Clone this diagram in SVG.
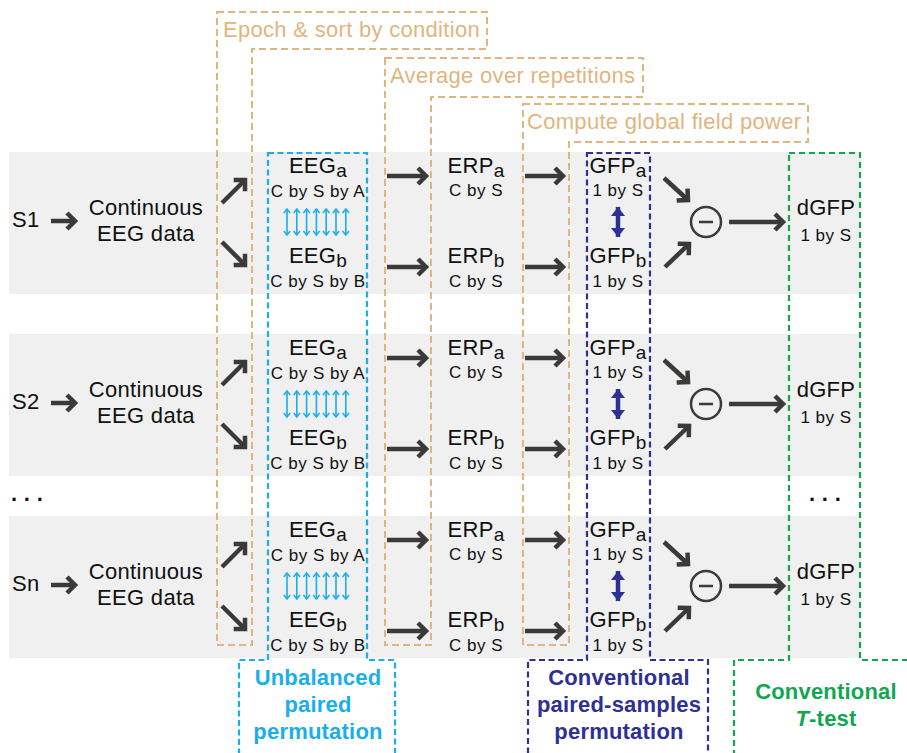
<svg xmlns="http://www.w3.org/2000/svg" width="907" height="753" viewBox="0 0 907 753">
<style>
  .band{fill:#eff0ef}
  .t{font-family:"Liberation Sans",Arial,sans-serif;font-size:22px;letter-spacing:0.3px;fill:#111}
  .s{font-family:"Liberation Sans",Arial,sans-serif;font-size:17px;letter-spacing:0.5px;fill:#111}
  .m{text-anchor:middle}
  .tan{fill:none;stroke:#e0b680;stroke-width:2;stroke-dasharray:7 4}
  .tanT{font-family:"Liberation Sans",Arial,sans-serif;font-size:22px;letter-spacing:0.3px;fill:#e0b680}
  .cy{fill:none;stroke:#1aaeea;stroke-width:2.2;stroke-dasharray:6 3.5}
  .nv{fill:none;stroke:#2e3192;stroke-width:2.2;stroke-dasharray:6 3.5}
  .gr{fill:none;stroke:#12a650;stroke-width:2.2;stroke-dasharray:6 4}
  .lab{font-family:"Liberation Sans",Arial,sans-serif;font-size:22px;font-weight:bold;letter-spacing:0.2px;text-anchor:middle}
  .ar{fill:none;stroke:#3c3939;stroke-width:4.5;marker-end:url(#ah)}
  .ca{fill:none;stroke:#1aaeea;stroke-width:1.6;marker-start:url(#cah);marker-end:url(#cah)}
  .na{fill:none;stroke:#2e3192;stroke-width:4.5;marker-start:url(#nah);marker-end:url(#nah)}
  .circ{fill:none;stroke:#3c3939;stroke-width:2.5}
  .minus{stroke:#3c3939;stroke-width:2.5}
  .dot{fill:#111}
</style>
<defs>
  <marker id="ah" viewBox="-12 -10 16 20" refX="0" refY="0" markerWidth="16" markerHeight="20" markerUnits="userSpaceOnUse" orient="auto" overflow="visible">
    <path d="M-8,-8 L0,0 L-8,8" fill="none" stroke="#3c3939" stroke-width="4.5"/>
  </marker>
  <marker id="cah" viewBox="-6 -5 8 10" refX="0" refY="0" markerWidth="8" markerHeight="10" markerUnits="userSpaceOnUse" orient="auto-start-reverse" overflow="visible">
    <path d="M-4,-3.2 L0,0 L-4,3.2" fill="none" stroke="#1aaeea" stroke-width="1.5"/>
  </marker>
  <marker id="nah" viewBox="-10 -8 12 16" refX="0" refY="0" markerWidth="12" markerHeight="16" markerUnits="userSpaceOnUse" orient="auto-start-reverse" overflow="visible">
    <path d="M-9,-7 L0,0 L-9,7 Z" fill="#2e3192"/>
  </marker>
</defs>

<g id="bands">
  <rect class="band" x="9" y="152" width="852" height="142"/>
  <rect class="band" x="9" y="334" width="852" height="142"/>
  <rect class="band" x="9" y="516" width="852" height="142"/>
</g>

<g id="stage-epoch">
  <path class="tan" d="M217,12 H487 V49 H252 V645 H217 Z"/>
  <text class="tanT" x="223" y="37">Epoch &amp; sort by condition</text>
</g>
<g id="stage-average">
  <path class="tan" d="M385,58 H643 V97 H431 V645 H385 Z"/>
  <text class="tanT" x="390" y="83">Average over repetitions</text>
</g>
<g id="stage-gfp">
  <path class="tan" d="M523,104 H808 V142 H569 V645 H523 Z"/>
  <text class="tanT" x="527" y="129">Compute global field power</text>
</g>

<g id="test-unbalanced">
  <path class="cy" d="M268,153 H367 V660 H395 V754 H239 V660 H268 Z"/>
  <text class="lab" x="318" y="685" fill="#1aaeea">Unbalanced</text>
  <text class="lab" x="318" y="712" fill="#1aaeea">paired</text>
  <text class="lab" x="318" y="739" fill="#1aaeea">permutation</text>
</g>
<g id="test-conventional-perm">
  <path class="nv" d="M587,153 H650 V660 H708 V754 H528 V660 H587 Z"/>
  <text class="lab" x="619" y="685" fill="#2e3192">Conventional</text>
  <text class="lab" x="619" y="712" fill="#2e3192">paired-samples</text>
  <text class="lab" x="619" y="739" fill="#2e3192">permutation</text>
</g>
<g id="test-ttest">
  <path class="gr" d="M789,153 H860 V660 H912 V754 H734 V660 H789 Z"/>
  <text class="lab" x="826" y="699" fill="#12a650">Conventional</text>
  <text class="lab" x="826" y="726" fill="#12a650"><tspan font-style="italic">T</tspan>-test</text>
</g>

<g id="row1">
  <g id="r1-s"><text class="t" x="12" y="227">S1</text></g>
  <g id="r1-cont"><text class="t m" x="146" y="215">Continuous</text><text class="t m" x="146" y="241">EEG data</text></g>
  <g id="r1-eega"><text class="t m" x="318" y="173">EEG<tspan font-size="19" dy="4">a</tspan></text><text class="s m" x="318" y="197">C by S by A</text></g>
  <g id="r1-eegb"><text class="t m" x="318" y="263">EEG<tspan font-size="19" dy="4">b</tspan></text><text class="s m" x="318" y="287">C by S by B</text></g>
  <g id="r1-erpa"><text class="t m" x="476" y="173">ERP<tspan font-size="19" dy="4">a</tspan></text><text class="s m" x="476" y="196">C by S</text></g>
  <g id="r1-erpb"><text class="t m" x="476" y="263">ERP<tspan font-size="19" dy="4">b</tspan></text><text class="s m" x="476" y="287">C by S</text></g>
  <g id="r1-gfpa"><text class="t m" x="618" y="173">GFP<tspan font-size="19" dy="4">a</tspan></text><text class="s m" x="618" y="196">1 by S</text></g>
  <g id="r1-gfpb"><text class="t m" x="618" y="263">GFP<tspan font-size="19" dy="4">b</tspan></text><text class="s m" x="618" y="287">1 by S</text></g>
  <g id="r1-minus"><circle class="circ" cx="706" cy="222" r="15"/><line class="minus" x1="699" y1="222" x2="713" y2="222"/></g>
  <g id="r1-dgfp"><text class="t m" x="826" y="215">dGFP</text><text class="s m" x="826" y="241">1 by S</text></g>
  <g id="r1-connectors">
    <path class="ar" d="M51,221 H75"/>
    <path class="ar" d="M222,203 L245,180"/>
    <path class="ar" d="M222,242 L245,265"/>
    <path class="ar" d="M387,176 H426"/>
    <path class="ar" d="M387,267 H426"/>
    <path class="ar" d="M525,176 H563"/>
    <path class="ar" d="M525,267 H563"/>
    <path class="ar" d="M664,178 L688,200"/>
    <path class="ar" d="M665,267 L689,244"/>
    <path class="ar" d="M729,222 H783"/>
    <path class="ca" d="M287,209 V235"/><path class="ca" d="M296.8,209 V235"/><path class="ca" d="M306.6,209 V235"/><path class="ca" d="M316.4,209 V235"/><path class="ca" d="M326.2,209 V235"/><path class="ca" d="M336,209 V235"/><path class="ca" d="M345.8,209 V235"/>
    <path class="na" d="M618,207 V237"/>
  </g>
</g>

<g id="row2" transform="translate(0,182)">
  <g id="r2-s"><text class="t" x="12" y="227">S2</text></g>
  <g id="r2-cont"><text class="t m" x="146" y="215">Continuous</text><text class="t m" x="146" y="241">EEG data</text></g>
  <g id="r2-eega"><text class="t m" x="318" y="173">EEG<tspan font-size="19" dy="4">a</tspan></text><text class="s m" x="318" y="197">C by S by A</text></g>
  <g id="r2-eegb"><text class="t m" x="318" y="263">EEG<tspan font-size="19" dy="4">b</tspan></text><text class="s m" x="318" y="287">C by S by B</text></g>
  <g id="r2-erpa"><text class="t m" x="476" y="173">ERP<tspan font-size="19" dy="4">a</tspan></text><text class="s m" x="476" y="196">C by S</text></g>
  <g id="r2-erpb"><text class="t m" x="476" y="263">ERP<tspan font-size="19" dy="4">b</tspan></text><text class="s m" x="476" y="287">C by S</text></g>
  <g id="r2-gfpa"><text class="t m" x="618" y="173">GFP<tspan font-size="19" dy="4">a</tspan></text><text class="s m" x="618" y="196">1 by S</text></g>
  <g id="r2-gfpb"><text class="t m" x="618" y="263">GFP<tspan font-size="19" dy="4">b</tspan></text><text class="s m" x="618" y="287">1 by S</text></g>
  <g id="r2-minus"><circle class="circ" cx="706" cy="222" r="15"/><line class="minus" x1="699" y1="222" x2="713" y2="222"/></g>
  <g id="r2-dgfp"><text class="t m" x="826" y="215">dGFP</text><text class="s m" x="826" y="241">1 by S</text></g>
  <g id="r2-connectors">
    <path class="ar" d="M51,221 H75"/>
    <path class="ar" d="M222,203 L245,180"/>
    <path class="ar" d="M222,242 L245,265"/>
    <path class="ar" d="M387,176 H426"/>
    <path class="ar" d="M387,267 H426"/>
    <path class="ar" d="M525,176 H563"/>
    <path class="ar" d="M525,267 H563"/>
    <path class="ar" d="M664,178 L688,200"/>
    <path class="ar" d="M665,267 L689,244"/>
    <path class="ar" d="M729,222 H783"/>
    <path class="ca" d="M287,209 V235"/><path class="ca" d="M296.8,209 V235"/><path class="ca" d="M306.6,209 V235"/><path class="ca" d="M316.4,209 V235"/><path class="ca" d="M326.2,209 V235"/><path class="ca" d="M336,209 V235"/><path class="ca" d="M345.8,209 V235"/>
    <path class="na" d="M618,207 V237"/>
  </g>
</g>

<g id="ellipsis">
  <text class="t" x="11" y="501" letter-spacing="1.8" font-weight="bold">. . .</text>
  <text class="t" x="809" y="501" letter-spacing="1.3" font-weight="bold">. . .</text>
</g>

<g id="row3" transform="translate(0,364)">
  <g id="r3-s"><text class="t" x="12" y="227">Sn</text></g>
  <g id="r3-cont"><text class="t m" x="146" y="215">Continuous</text><text class="t m" x="146" y="241">EEG data</text></g>
  <g id="r3-eega"><text class="t m" x="318" y="173">EEG<tspan font-size="19" dy="4">a</tspan></text><text class="s m" x="318" y="197">C by S by A</text></g>
  <g id="r3-eegb"><text class="t m" x="318" y="263">EEG<tspan font-size="19" dy="4">b</tspan></text><text class="s m" x="318" y="287">C by S by B</text></g>
  <g id="r3-erpa"><text class="t m" x="476" y="173">ERP<tspan font-size="19" dy="4">a</tspan></text><text class="s m" x="476" y="196">C by S</text></g>
  <g id="r3-erpb"><text class="t m" x="476" y="263">ERP<tspan font-size="19" dy="4">b</tspan></text><text class="s m" x="476" y="287">C by S</text></g>
  <g id="r3-gfpa"><text class="t m" x="618" y="173">GFP<tspan font-size="19" dy="4">a</tspan></text><text class="s m" x="618" y="196">1 by S</text></g>
  <g id="r3-gfpb"><text class="t m" x="618" y="263">GFP<tspan font-size="19" dy="4">b</tspan></text><text class="s m" x="618" y="287">1 by S</text></g>
  <g id="r3-minus"><circle class="circ" cx="706" cy="222" r="15"/><line class="minus" x1="699" y1="222" x2="713" y2="222"/></g>
  <g id="r3-dgfp"><text class="t m" x="826" y="215">dGFP</text><text class="s m" x="826" y="241">1 by S</text></g>
  <g id="r3-connectors">
    <path class="ar" d="M51,221 H75"/>
    <path class="ar" d="M222,203 L245,180"/>
    <path class="ar" d="M222,242 L245,265"/>
    <path class="ar" d="M387,176 H426"/>
    <path class="ar" d="M387,267 H426"/>
    <path class="ar" d="M525,176 H563"/>
    <path class="ar" d="M525,267 H563"/>
    <path class="ar" d="M664,178 L688,200"/>
    <path class="ar" d="M665,267 L689,244"/>
    <path class="ar" d="M729,222 H783"/>
    <path class="ca" d="M287,209 V235"/><path class="ca" d="M296.8,209 V235"/><path class="ca" d="M306.6,209 V235"/><path class="ca" d="M316.4,209 V235"/><path class="ca" d="M326.2,209 V235"/><path class="ca" d="M336,209 V235"/><path class="ca" d="M345.8,209 V235"/>
    <path class="na" d="M618,207 V237"/>
  </g>
</g>
</svg>
